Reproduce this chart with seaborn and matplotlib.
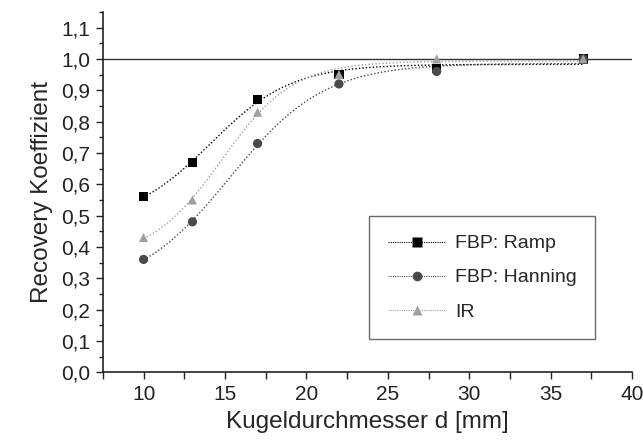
import matplotlib
matplotlib.use("Agg")
import matplotlib.pyplot as plt
from matplotlib.lines import Line2D
from matplotlib.ticker import MultipleLocator, FuncFormatter
import numpy as np
import pandas as pd
import seaborn as sns

# Data
diameter = [10, 13, 17, 22, 28, 37]
ramp = [0.56, 0.67, 0.87, 0.95, 0.97, 1.00]
hanning = [0.36, 0.48, 0.73, 0.92, 0.96, 1.00]
ir = [0.43, 0.55, 0.83, 0.95, 1.00, 1.00]
labels = ["FBP: Ramp", "FBP: Hanning", "IR"]

df = pd.DataFrame({"d": diameter * 3,
                   "rc": ramp + hanning + ir,
                   "series": np.repeat(labels, len(diameter))})


def boltzmann_fit(x, y):
    # least squares Boltzmann fit: A1, A2 solved linearly, x0/dx by grid
    x = np.asarray(x, float)
    y = np.asarray(y, float)
    best = None
    for x0 in np.linspace(0, 25, 251):
        for dx in np.linspace(0.5, 12, 116):
            s = 1.0 / (1.0 + np.exp((x - x0) / dx))
            M = np.column_stack([s, 1 - s])
            coef, *_ = np.linalg.lstsq(M, y, rcond=None)
            err = np.sum((M @ coef - y) ** 2)
            if best is None or err < best[0]:
                best = (err, coef, x0, dx)
    _, (a1, a2), x0, dx = best
    xs = np.linspace(x.min(), x.max(), 200)
    return xs, a2 + (a1 - a2) / (1 + np.exp((xs - x0) / dx))


sns.set_style("ticks")
plt.rcParams["font.family"] = ["Liberation Sans", "DejaVu Sans"]

fig = plt.figure(figsize=(6.43, 4.41), dpi=100)
ax = fig.add_axes([0.160, 0.156, 0.823, 0.817])

colors = {"FBP: Ramp": "#000000", "FBP: Hanning": "#4a4a4a", "IR": "#a0a0a0"}
markers = {"FBP: Ramp": "s", "FBP: Hanning": "o", "IR": "^"}

ax.axhline(1.0, color="#333333", lw=1.0, zorder=1)

for name, vals in zip(labels, [ramp, hanning, ir]):
    xs, ys = boltzmann_fit(diameter, vals)
    sns.lineplot(x=xs, y=ys, ax=ax, color=colors[name], lw=1.0,
                 linestyle=(0, (1, 1.5)), zorder=2)

sns.scatterplot(data=df, x="d", y="rc", hue="series", style="series",
                palette=colors, markers=markers, s=44, edgecolor="none",
                ax=ax, zorder=3, legend=False)

ax.set_xlim(7.5, 40)
ax.set_ylim(0, 1.15)
ax.xaxis.set_major_locator(MultipleLocator(5))
ax.xaxis.set_minor_locator(MultipleLocator(2.5))
ax.yaxis.set_major_locator(MultipleLocator(0.1))
ax.yaxis.set_minor_locator(MultipleLocator(0.05))
ax.set_xticks([10, 15, 20, 25, 30, 35, 40])
ax.yaxis.set_major_formatter(FuncFormatter(lambda v, p: f"{v:.1f}".replace(".", ",")))
ax.tick_params(which="major", length=5, width=1.0, labelsize=15, colors="#222222", pad=4)
ax.tick_params(which="minor", length=3, width=1.0, colors="#222222")
ax.tick_params(axis="x", which="minor", length=5)
for sp in ["left", "bottom"]:
    ax.spines[sp].set_linewidth(1.2)
    ax.spines[sp].set_color("#222222")
sns.despine(ax=ax)

ax.set_xlabel("Kugeldurchmesser d [mm]", fontsize=17.5, labelpad=5)
ax.set_ylabel("Recovery Koeffizient", fontsize=17.5, labelpad=6)

handles = [Line2D([], [], color=colors[n], marker=markers[n], markersize=7,
                  linestyle=(0, (1, 1)), lw=0.8, markeredgecolor="none")
           for n in labels]
leg = ax.legend(handles, labels, loc="lower right", bbox_to_anchor=(0.93, 0.092),
                fontsize=14, frameon=True, fancybox=False, handlelength=3.0,
                labelspacing=0.85, borderpad=0.95, handletextpad=0.45,
                borderaxespad=0)
leg.get_frame().set_edgecolor("#444444")
leg.get_frame().set_linewidth(1.0)

fig.savefig("out.png", dpi=100)
